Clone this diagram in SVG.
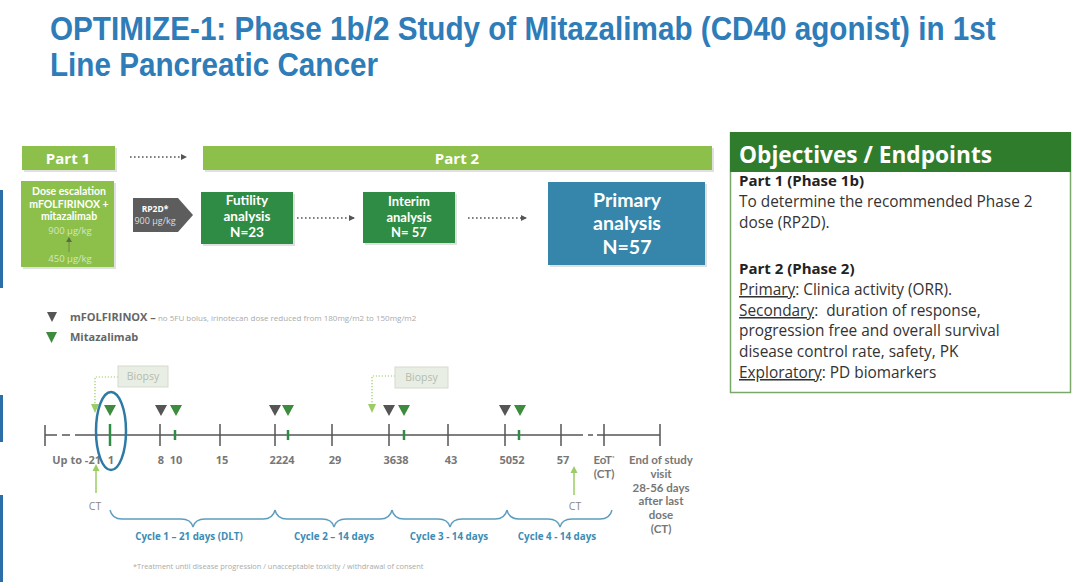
<svg xmlns="http://www.w3.org/2000/svg" width="1080" height="582" viewBox="0 0 1080 582">
<defs>
<style>
.title{font-family:"Liberation Sans",Arial,sans-serif;font-weight:bold;font-size:33px;fill:#2e7cb8}
.os{font-family:"Open Sans","Noto Sans","Liberation Sans",sans-serif}
.wb{font-family:"Open Sans","Noto Sans",sans-serif;font-weight:bold;fill:#fff;text-anchor:middle}
.lb{font-family:Lato,"Open Sans",sans-serif;font-weight:bold;fill:#fff;text-anchor:middle}
.lg{fill:#8cc04b}
.dg{fill:#2f8c44}
.dot{stroke:#555;stroke-width:1.6;stroke-dasharray:1.6 2.4;fill:none}
.ax{stroke:#555;stroke-width:1.5;fill:none}
.tk{stroke:#555;stroke-width:1.5}
.gtk{stroke:#2f8c44;stroke-width:2.5}
.lbl{font-family:"Open Sans","Noto Sans",sans-serif;font-weight:bold;font-size:11px;fill:#777;text-anchor:middle}
.lbl2{font-family:Lato,"Open Sans",sans-serif;font-weight:bold;font-size:11.5px;fill:#777;text-anchor:middle}
.ct{font-family:"Open Sans","Noto Sans",sans-serif;font-size:10.5px;fill:#888;text-anchor:middle}
.cyc{font-family:"Open Sans","Noto Sans",sans-serif;font-weight:bold;font-size:9.8px;fill:#3c8cb4;text-anchor:middle}
.brace{stroke:#5b9dc0;stroke-width:1.4;fill:none}
.bx{fill:#e9eee5;stroke:#d3dbcc;stroke-width:1}
.bt{font-family:"Open Sans","Noto Sans",sans-serif;font-size:10.5px;fill:#b3bcab;text-anchor:middle}
.gdot{stroke:#9ccc65;stroke-width:1.2;stroke-dasharray:1.2 1.8;fill:none}
.gar{stroke:#9ccc65;stroke-width:1.5;fill:none}
.obj{font-family:"Open Sans","Noto Sans",sans-serif;font-size:15.4px;fill:#333}
.objb{font-family:"Open Sans","Noto Sans",sans-serif;font-size:15px;font-weight:bold;fill:#222}
.sh{fill:#000;opacity:0.12}
</style>
<marker id="ah" markerWidth="6" markerHeight="6" refX="5" refY="3" orient="auto" markerUnits="userSpaceOnUse">
<path d="M0,0 L6,3 L0,6 Z" fill="#555"/>
</marker>
</defs>
<rect width="1080" height="582" fill="#fff"/>

<g id="title">
<text class="title" transform="translate(50,39.5) scale(0.899,1)"><tspan x="0" y="0">OPTIMIZE-1: Phase 1b/2 Study of Mitazalimab (CD40 agonist) in 1st</tspan><tspan x="0" y="37">Line Pancreatic Cancer</tspan></text>
</g>

<g id="side-bars" fill="#2c6fa8">
<rect x="0" y="190" width="3" height="98"/>
<rect x="0" y="395" width="3" height="47"/>
<rect x="0" y="495" width="3" height="87"/>
</g>

<g id="part1">
<rect class="sh" x="24" y="148" width="93" height="24"/>
<rect class="lg" x="22" y="146" width="93" height="24"/>
<text class="wb" x="68" y="163.5" font-size="15">Part 1</text>
</g>

<g id="part2">
<rect class="sh" x="205" y="148" width="509" height="24"/>
<rect class="lg" x="203" y="146" width="509" height="24"/>
<text class="wb" x="457" y="163.5" font-size="15">Part 2</text>
</g>

<g id="dose-escalation">
<rect class="sh" x="23" y="183" width="93" height="86"/>
<rect class="lg" x="21" y="181" width="93" height="86"/>
<text class="lb" x="69" y="195" font-size="10.5">Dose escalation</text>
<text class="lb" x="69" y="207.6" font-size="10.5">mFOLFIRINOX +</text>
<text class="lb" x="69" y="220.2" font-size="10.5">mitazalimab</text>
<text class="os" x="70" y="234" font-size="9.5" fill="#d6e6c0" text-anchor="middle">900 µg/kg</text>
<line x1="69" y1="252" x2="69" y2="240" stroke="#6b8a45" stroke-width="1"/>
<path d="M66,242 L69,237 L72,242 Z" fill="#5a6e45"/>
<text class="os" x="70" y="262" font-size="9.5" fill="#d6e6c0" text-anchor="middle">450 µg/kg</text>
</g>

<g id="rp2d">
<path d="M133,198 L178,198 L193,215 L178,232 L133,232 Z" fill="#5d5d5d"/>
<text class="wb" x="155" y="212" font-size="8.5">RP2D*</text>
<text class="os" x="155" y="224" font-size="9" fill="#ddd" text-anchor="middle">900 µg/kg</text>
</g>

<g id="futility">
<rect class="sh" x="203" y="194" width="92" height="52"/>
<rect class="dg" x="201" y="192" width="92" height="52"/>
<text class="lb" x="247" y="205" font-size="13.5">Futility</text>
<text class="lb" x="247" y="221.2" font-size="13.5">analysis</text>
<text class="lb" x="247" y="237.4" font-size="13.5">N=23</text>
</g>

<g id="interim">
<rect class="sh" x="365" y="194" width="92" height="51"/>
<rect class="dg" x="363" y="192" width="92" height="51"/>
<text class="lb" x="409" y="206" font-size="13">Interim</text>
<text class="lb" x="409" y="221.6" font-size="13">analysis</text>
<text class="lb" x="409" y="237.2" font-size="13">N= 57</text>
</g>

<g id="primary">
<rect class="sh" x="550" y="184" width="157" height="83"/>
<rect x="548" y="182" width="157" height="83" fill="#3685aa"/>
<text class="lb" x="627" y="207" font-size="19.5">Primary</text>
<text class="lb" x="627" y="230.4" font-size="19.5">analysis</text>
<text class="lb" x="627" y="253.8" font-size="19.5">N=57</text>
</g>

<g id="connectors">
<line class="dot" x1="130" y1="157" x2="186" y2="157" marker-end="url(#ah)"/>
<line class="dot" x1="297" y1="218" x2="354" y2="218" marker-end="url(#ah)"/>
<line class="dot" x1="468" y1="218" x2="526" y2="218" marker-end="url(#ah)"/>
<path class="gdot" d="M118,377 L95,377 L95,404"/>
<path d="M91,404 L95,413 L99,404 Z" fill="#9ccc65"/>
<path class="gdot" d="M395,376 L372,376 L372,404"/>
<path d="M368,404 L372,413 L376,404 Z" fill="#9ccc65"/>
<line class="gar" x1="96" y1="493" x2="96" y2="470"/>
<path d="M92.5,471 L96,464 L99.5,471 Z" fill="#9ccc65"/>
<line class="gar" x1="574" y1="495" x2="574" y2="472"/>
<path d="M570.5,473 L574,466 L577.5,473 Z" fill="#9ccc65"/>
</g>

<g id="objectives">
<rect x="730.5" y="133" width="340" height="259.5" fill="#fff" stroke="#7aa86a" stroke-width="1.5"/>
<rect x="730" y="132" width="341" height="40" fill="#307c2d"/>
<text x="739" y="163" font-family="Open Sans,Noto Sans,sans-serif" font-weight="bold" font-size="23" fill="#fff" textLength="253" lengthAdjust="spacingAndGlyphs">Objectives / Endpoints</text>
<text class="objb" x="739" y="186">Part 1 (Phase 1b)</text>
<text class="obj" x="739" y="207">To determine the recommended Phase 2</text>
<text class="obj" x="739" y="228">dose (RP2D).</text>
<text class="objb" x="739" y="274">Part 2 (Phase 2)</text>
<text class="obj" x="739" y="295"><tspan text-decoration="underline">Primary</tspan>: Clinica activity (ORR).</text>
<text class="obj" x="739" y="316" xml:space="preserve"><tspan text-decoration="underline">Secondary</tspan>:  duration of response,</text>
<text class="obj" x="739" y="336">progression free and overall survival</text>
<text class="obj" x="739" y="357">disease control rate, safety, PK</text>
<text class="obj" x="739" y="378"><tspan text-decoration="underline">Exploratory</tspan>: PD biomarkers</text>
</g>

<g id="legend">
<path d="M47,312 L57,312 L52,322 Z" fill="#555"/>
<text x="70" y="320.5" font-family="Open Sans,Noto Sans,sans-serif" font-weight="bold" font-size="11" fill="#666">mFOLFIRINOX –<tspan font-weight="normal" font-size="8" fill="#aaa"> no 5FU bolus, irinotecan dose reduced from 180mg/m2 to 150mg/m2</tspan></text>
<path d="M46,332 L57,332 L51.5,343 Z" fill="#3d8b3d"/>
<text x="70" y="341" font-family="Open Sans,Noto Sans,sans-serif" font-weight="bold" font-size="11" fill="#666">Mitazalimab</text>
</g>

<g id="biopsy-1">
<rect class="bx" x="118" y="366" width="50" height="21"/>
<text class="bt" x="143" y="380">Biopsy</text>
</g>
<g id="biopsy-2">
<rect class="bx" x="395" y="367" width="53" height="21"/>
<text class="bt" x="421.5" y="381">Biopsy</text>
</g>

<g id="timeline">
<path class="ax" d="M45,435 L57,435 M62,435 L70,435 M75,435 L583,435 M588,435 L593,435 M597,435 L660,435"/>
<line class="tk" x1="45" y1="425" x2="45" y2="446"/>
<line class="gtk" x1="110" y1="424" x2="110" y2="446"/>
<line class="tk" x1="160" y1="424" x2="160" y2="446"/>
<line class="gtk" x1="175" y1="430" x2="175" y2="440" stroke-width="2"/>
<line class="tk" x1="220" y1="424" x2="220" y2="446"/>
<line class="tk" x1="275" y1="424" x2="275" y2="446"/>
<line class="gtk" x1="288" y1="430" x2="288" y2="440" stroke-width="2"/>
<line class="tk" x1="332" y1="424" x2="332" y2="446"/>
<line class="tk" x1="389" y1="424" x2="389" y2="446"/>
<line class="gtk" x1="404" y1="430" x2="404" y2="440" stroke-width="2"/>
<line class="tk" x1="448" y1="424" x2="448" y2="446"/>
<line class="tk" x1="505" y1="424" x2="505" y2="446"/>
<line class="gtk" x1="519" y1="430" x2="519" y2="440" stroke-width="2"/>
<line class="tk" x1="561" y1="424" x2="561" y2="446"/>
<line class="tk" x1="604" y1="424" x2="604" y2="446"/>
<line class="tk" x1="660" y1="424" x2="660" y2="446"/>
<g fill="#555">
<path d="M155,405 L167,405 L161,416 Z"/>
<path d="M269,405 L281,405 L275,416 Z"/>
<path d="M383,405 L395,405 L389,416 Z"/>
<path d="M499,405 L511,405 L505,416 Z"/>
</g>
<g fill="#3d8b3d">
<path d="M104,405 L116,405 L110,416 Z"/>
<path d="M170,405 L182,405 L176,416 Z"/>
<path d="M282,405 L294,405 L288,416 Z"/>
<path d="M398,405 L410,405 L404,416 Z"/>
<path d="M514,405 L526,405 L520,416 Z"/>
</g>
<text class="lbl" x="101" y="464" style="text-anchor:end">Up to -21</text>
<text class="lbl" x="111" y="464">1</text>
<text class="lbl" x="161" y="464">8</text>
<text class="lbl" x="176" y="464">10</text>
<text class="lbl" x="222" y="464">15</text>
<text class="lbl" x="282" y="464">2224</text>
<text class="lbl" x="335" y="464">29</text>
<text class="lbl" x="396" y="464">3638</text>
<text class="lbl" x="451" y="464">43</text>
<text class="lbl" x="512" y="464">5052</text>
<text class="lbl" x="563" y="464">57</text>
<text class="lbl2" x="604" y="464">EoT<tspan font-size="6" dy="-4">*</tspan></text>
<text class="lbl2" x="604" y="477.8">(CT)</text>
<text class="lbl2" x="661" y="464">End of study</text>
<text class="lbl2" x="661" y="477.8">visit</text>
<text class="lbl2" x="661" y="491.6">28-56 days</text>
<text class="lbl2" x="661" y="505.4">after last</text>
<text class="lbl2" x="661" y="519.2">dose</text>
<text class="lbl2" x="661" y="533">(CT)</text>
<ellipse cx="111" cy="431" rx="15" ry="39" fill="none" stroke="#2d7aa5" stroke-width="2.5"/>
<text class="ct" x="95" y="510">CT</text>
<text class="ct" x="575" y="510">CT</text>
</g>

<g id="cycles">
<path class="brace" d="M110,510 Q112,519 122,519 L181,519 Q191,519 193,527 Q195,519 205,519 L263,519 Q273,519 275,510"/>
<path class="brace" d="M275,510 Q277,519 287,519 L322,519 Q332,519 334,527 Q336,519 346,519 L380,519 Q390,519 392,510"/>
<path class="brace" d="M392,510 Q394,519 404,519 L438,519 Q448,519 450,527 Q452,519 462,519 L495,519 Q505,519 507,510"/>
<path class="brace" d="M507,510 Q509,519 519,519 L548,519 Q558,519 560,527 Q562,519 572,519 L600,519 Q610,519 612,510"/>
<text class="cyc" x="189" y="540">Cycle 1 – 21 days (DLT)</text>
<text class="cyc" x="334" y="540">Cycle 2 – 14 days</text>
<text class="cyc" x="449" y="540">Cycle 3 - 14 days</text>
<text class="cyc" x="557" y="540">Cycle 4 - 14 days</text>
<text x="133" y="569" font-family="Open Sans,Noto Sans,sans-serif" font-size="7.4" fill="#aaa">*Treatment until disease progression / unacceptable toxicity / withdrawal of consent</text>
</g>
</svg>
